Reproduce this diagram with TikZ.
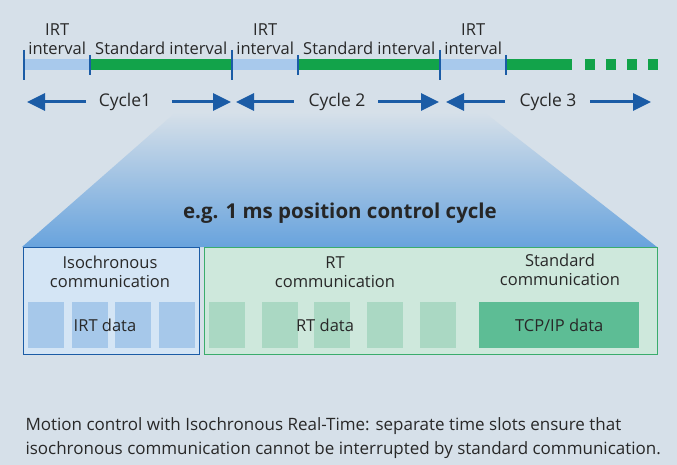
\documentclass[tikz,border=0pt]{standalone}
\usepackage{fontspec}
\setmainfont{Open Sans}
\usepackage{tikz}
\usetikzlibrary{arrows.meta, positioning}

\definecolor{bgcol}{RGB}{214,224,233}
\definecolor{irtbar}{RGB}{168,201,236}
\definecolor{stdbar}{RGB}{18,163,74}
\definecolor{darkblue}{RGB}{27,92,166}
\definecolor{funnelblue}{RGB}{104,163,221}
\definecolor{isofill}{RGB}{212,229,245}
\definecolor{rtfill}{RGB}{206,232,220}
\definecolor{rtborder}{RGB}{58,172,108}
\definecolor{irtblock}{RGB}{166,200,234}
\definecolor{rtblock}{RGB}{170,216,195}
\definecolor{tcpblock}{RGB}{93,189,149}
\definecolor{txt}{RGB}{40,40,40}

\begin{document}
\begin{tikzpicture}[x=1pt, y=-1pt, font=\fontsize{16.5}{19}\selectfont, text=txt,
  seg/.style={anchor=west, inner sep=0pt, minimum height=11pt},
  irtseg/.style={seg, fill=irtbar}, stdseg/.style={seg, fill=stdbar},
  tick/.style={darkblue, line width=2.6pt},
  cyc/.style={darkblue, line width=3pt, -{Triangle[length=18pt, width=17pt]}},
  cyclabel/.style={font=\fontsize{17.5}{20}\selectfont},
  commbox/.style={anchor=north west, draw, line width=1.4pt, minimum height=107pt},
  blk/.style={anchor=north west, inner sep=0pt, minimum width=36pt, minimum height=46pt},
  head/.style={align=center, font=\fontsize{16.5}{19}\selectfont}]
  \fill[bgcol] (0,0) rectangle (677,465);
  \useasboundingbox (0,0) rectangle (677,465);

  % time line
  \node[irtseg, minimum width=66pt] (i1) at (24,65) {};
  \node[stdseg, minimum width=142pt] (s1) at (90,65) {};
  \node[irtseg, minimum width=66pt] (i2) at (232,65) {};
  \node[stdseg, minimum width=142pt] (s2) at (298,65) {};
  \node[irtseg, minimum width=66pt] (i3) at (440,65) {};
  \node[stdseg, minimum width=66pt] (s3) at (506,65) {};
  \foreach \x in {585,606,627,648}
    \fill[stdbar] (\x,59.5) rectangle ++(10,11);
  \foreach \x in {24,232,440}
    \draw[tick] (\x,50) -- (\x,80);
  \foreach \x in {90,298,506}
    \draw[tick] (\x,55) -- (\x,75);

  \node[head, above=1pt of i1] (li1) {IRT\\interval};
  \node[head, above=1pt of s1] (ls1) {Standard interval};
  \node[head, above=1pt of i2] (li2) {IRT\\interval};
  \node[head, above=1pt of s2] (ls2) {Standard interval};
  \node[head, above=1pt of i3] (li3) {IRT\\interval};

  % cycles
  \node[cyclabel] (c1) at (125,102) {Cycle1};
  \node[cyclabel] (c2) at (337,102) {Cycle 2};
  \node[cyclabel] (c3) at (548,102) {Cycle 3};
  \coordinate (c1a) at (27,102);  \coordinate (c1b) at (231,102);
  \coordinate (c2a) at (236,102); \coordinate (c2b) at (439,102);
  \coordinate (c3a) at (446,102); \coordinate (c3b) at (651,102);
  \draw[cyc, shorten <=9pt] (c1.west) -- (c1a);
  \draw[cyc, shorten <=17pt] (c1.east) -- (c1b);
  \draw[cyc, shorten <=11pt] (c2.west) -- (c2a);
  \draw[cyc, shorten <=9pt] (c2.east) -- (c2b);
  \draw[cyc, shorten <=11pt] (c3.west) -- (c3a);
  \draw[cyc, shorten <=10pt] (c3.east) -- (c3b);

  % zoom funnel
  \shade[top color=bgcol, bottom color=funnelblue]
    (176,112) -- (484,112) -- (657,247) -- (22,247) -- cycle;
  \node[font=\bfseries\fontsize{20.5}{24}\selectfont, text=black!85] (title) at (340,213) {e.g. 1 ms position control cycle};

  % one cycle
  \node[commbox, draw=darkblue, fill=isofill, minimum width=176pt] (iso) at (23,247) {};
  \node[commbox, draw=rtborder, fill=rtfill, minimum width=453pt] (rt) at (204,247) {};
  \node[head] (hiso) at (110,272) {Isochronous\\communication};
  \node[head] (hrt) at (335,272) {RT\\communication};
  \node[head] (hstd) at (560,270) {Standard\\communication};

  \foreach \x [count=\i] in {28,72,115,159}
    \node[blk, fill=irtblock] (ib\i) at (\x,302) {};
  \foreach \x [count=\i] in {209,262,314,367,420}
    \node[blk, fill=rtblock] (rb\i) at (\x,302) {};
  \node[blk, fill=tcpblock, minimum width=160pt] (tcp) at (479,302) {};
  \node (dirt) at (105,325) {IRT data};
  \node (drt) at (325,325) {RT data};
  \node (dtcp) at (tcp.center) {TCP/IP data};

  \node[anchor=west, align=left, font=\fontsize{17}{24}\selectfont] (cap) at (22,438)
    {Motion control with Isochronous Real-Time: separate time slots ensure that\\
     isochronous communication cannot be interrupted by standard communication.};
\end{tikzpicture}
\end{document}
